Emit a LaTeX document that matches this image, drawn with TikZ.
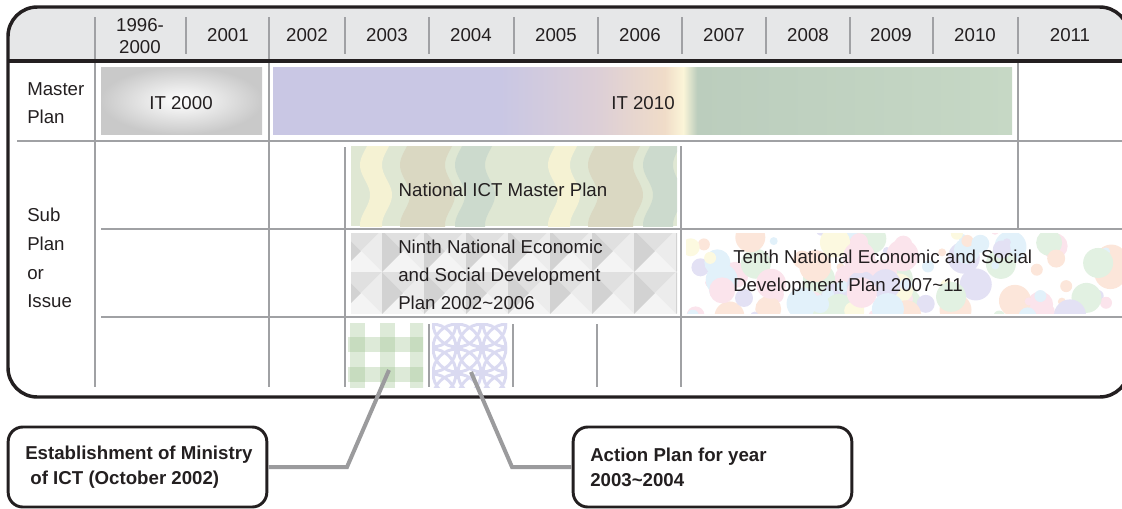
\documentclass[tikz,border=0pt]{standalone}
\usepackage{fontspec}
\setmainfont{Liberation Sans}
\definecolor{framec}{HTML}{231F20}
\definecolor{gridc}{HTML}{A0A1A4}
\definecolor{headbg}{HTML}{E6E7E8}
\definecolor{itpurple}{HTML}{C9C7E4}
\definecolor{itpink}{HTML}{DDCFD6}
\definecolor{itpeach}{HTML}{F0DCC8}
\definecolor{itcream}{HTML}{FBF5D8}
\definecolor{itgreenA}{HTML}{BBCDBD}
\definecolor{itgreenB}{HTML}{C6D8C5}
\definecolor{wavebg}{HTML}{DFE7D3}
\definecolor{wavecream}{HTML}{F5F2D3}
\definecolor{wavekhaki}{HTML}{DAD8C2}
\definecolor{waveteal}{HTML}{CCDACD}
\definecolor{triT}{HTML}{E0E0E0}
\definecolor{triL}{HTML}{D2D2D2}
\definecolor{triR}{HTML}{ECECEC}
\definecolor{triB}{HTML}{F4F4F4}
\definecolor{pA}{HTML}{E3E1F4}
\definecolor{pB}{HTML}{FBE4EC}
\definecolor{pC}{HTML}{E2F1FA}
\definecolor{pD}{HTML}{E2F1E2}
\definecolor{pE}{HTML}{FCF9E0}
\definecolor{pF}{HTML}{FCE6DA}
\definecolor{ging}{HTML}{9DC290}
\definecolor{lace}{HTML}{DADAF1}
\definecolor{connc}{HTML}{9B9B9D}
\pgfdeclarehorizontalshading{itshade}{100bp}{color(0bp)=(itpurple); color(25bp)=(itpurple); color(40.35bp)=(itpurple); color(47.15bp)=(itpink); color(51.5bp)=(itpeach); color(52.75bp)=(itcream); color(53.7bp)=(itgreenA); color(75bp)=(itgreenB); color(100bp)=(itgreenB)}
\begin{document}
\begin{tikzpicture}[x=0.75pt,y=-0.75pt,
  lbl/.style={inner sep=0pt, text=framec, font=\fontsize{14}{17}\selectfont},
  rowlbl/.style={lbl, align=left, anchor=west, font=\fontsize{14}{21.5}\selectfont},
  bartxt/.style={lbl, align=left, anchor=west, font=\fontsize{14}{21}\selectfont},
  gridline/.style={draw=gridc, line width=2pt},
  callout/.style={draw=framec, line width=2.2pt, rounded corners=11pt, minimum width=194pt, minimum height=60pt, inner sep=0pt},
  calltxt/.style={lbl, align=left, anchor=west, font=\fontsize{14}{18.75}\selectfont\bfseries},
  conn/.style={draw=connc, line width=3pt}]
\useasboundingbox (0,0) rectangle (1122,508);
\pgfmathsetseed{12}
\pgfmathdeclarerandomlist{pastels}{{pA}{pB}{pC}{pD}{pE}{pF}}
\pgfmathdeclarerandomlist{radii}{{4}{6}{9}{13}{15}{16}}

% header background
\begin{scope}
  \clip (0,0) rectangle (1135,61);
  \fill[headbg, rounded corners=22pt] (8,7) rectangle (1129,397);
\end{scope}

% IT 2000 bar
\shade[inner color=white, outer color=black!21] (101,67) rectangle (262,134);
% IT 2010 bar
\shade[shading=itshade] (273,67) rectangle (1012,134);

% National ICT Master Plan (wavy bands)
\begin{scope}
  \clip (351,146) rectangle (677,226);
  \fill[wavebg] (351,146) rectangle (677,226);
  \foreach \xo in {177,365,553}{
    \fill[wavecream] plot[variable=\t, domain=140:232, samples=40] ({\xo+5*sin(\t*6)},\t)
       -- plot[variable=\t, domain=232:140, samples=40] ({\xo+22+5*sin(\t*6)},\t) -- cycle;
    \fill[wavekhaki] plot[variable=\t, domain=140:232, samples=40] ({\xo+40+5*sin(\t*6)},\t)
       -- plot[variable=\t, domain=232:140, samples=40] ({\xo+85+5*sin(\t*6)},\t) -- cycle;
    \fill[waveteal] plot[variable=\t, domain=140:232, samples=40] ({\xo+95+5*sin(\t*6)},\t)
       -- plot[variable=\t, domain=232:140, samples=40] ({\xo+125+5*sin(\t*6)},\t) -- cycle;
  }
\end{scope}

% Ninth plan (pyramid tiles)
\begin{scope}
  \clip (351,233) rectangle (677,313);
  \foreach \tx in {340,382,...,690}{
    \foreach \ty in {230,272,314}{
      \fill[triT] (\tx,\ty) -- (\tx+42,\ty) -- (\tx+21,\ty+21) -- cycle;
      \fill[triR] (\tx+42,\ty) -- (\tx+42,\ty+42) -- (\tx+21,\ty+21) -- cycle;
      \fill[triB] (\tx,\ty+42) -- (\tx+42,\ty+42) -- (\tx+21,\ty+21) -- cycle;
      \fill[triL] (\tx,\ty) -- (\tx,\ty+42) -- (\tx+21,\ty+21) -- cycle;
    }
  }
\end{scope}

% Tenth plan (pastel dots)
\begin{scope}
  \clip (686,233) rectangle (1122,313);
  \foreach \i in {1,...,110}{
    \pgfmathsetmacro{\cx}{686+436*rnd}
    \pgfmathsetmacro{\cy}{228+90*rnd}
    \pgfmathrandomitem{\rr}{radii}
    \pgfmathrandomitem{\cc}{pastels}
    \fill[\cc] (\cx,\cy) circle[radius=\rr];
  }
\end{scope}

% gingham square
\begin{scope}
  \clip (348,323) rectangle (423,387);
  \foreach \gx in {350,380,410}{\fill[ging, opacity=0.35] (\gx,320) rectangle (\gx+15,390);}
  \foreach \gy in {337,367,307}{\fill[ging, opacity=0.35] (345,\gy) rectangle (425,\gy+15);}
\end{scope}

% lace square
\begin{scope}
  \clip (432,323) rectangle (507,387);
  \foreach \lx in {432,457,482,507}{
    \foreach \ly in {323,348,373,398}{
      \draw[lace, line width=2.2pt] (\lx,\ly) circle[radius=24];
    }
  }
\end{scope}

% grid lines
\foreach \gx in {186,345,429,514,598,682,766,850,933,1018}{
  \draw[gridline] (\gx,17) -- (\gx,54);
}
\draw[gridline] (95,17) -- (95,387);
\draw[gridline] (269,17) -- (269,387);
\draw[gridline] (1018,61) -- (1018,229);
\draw[gridline] (345,147) -- (345,387);
\draw[gridline] (681,146) -- (681,387);
\foreach \gx in {429,513,597}{\draw[gridline] (\gx,324) -- (\gx,387);}
\draw[gridline] (17,141) -- (1122,141);
\draw[gridline] (101,229) -- (1122,229);
\draw[gridline] (101,317) -- (1122,317);

% frame
\draw[framec, line width=3pt] (8,61) -- (1128,61);
\draw[framec, line width=2.6pt, rounded corners=22pt] (8,7) rectangle (1129,397);

% header labels
\node[lbl, align=center] (y9600) at (140,36) {1996-\\2000};
\node[lbl] (y01) at (228,35) {2001};
\node[lbl] (y02) at (307,35) {2002};
\node[lbl] (y03) at (387,35) {2003};
\node[lbl] (y04) at (471,35) {2004};
\node[lbl] (y05) at (556,35) {2005};
\node[lbl] (y06) at (640,35) {2006};
\node[lbl] (y07) at (724,35) {2007};
\node[lbl] (y08) at (808,35) {2008};
\node[lbl] (y09) at (891,35) {2009};
\node[lbl] (y10) at (975,35) {2010};
\node[lbl] (y11) at (1070,35) {2011};

% row labels
\node[rowlbl] (master) at (27,103) {Master\\Plan};
\node[rowlbl] (sub) at (27,258) {Sub\\Plan\\or\\Issue};

% bar labels
\node[lbl] (it2000) at (181,103) {IT 2000};
\node[lbl] (it2010) at (643,103) {IT 2010};
\node[lbl] (ict) at (503,190) {National ICT Master Plan};
\node[bartxt] (ninth) at (398,275) {Ninth National Economic\\and Social Development\\Plan 2002\textasciitilde2006};
\node[bartxt] (tenth) at (733,273) {Tenth National Economic and Social\\Development Plan 2007\textasciitilde11};

% callouts
\node[callout] (box1) at (137.5,467) {};
\node[calltxt] (t1) at (25,467) {Establishment of Ministry\\\ of ICT (October 2002)};
\node[callout, minimum width=209pt] (box2) at (712.5,467) {};
\node[calltxt] (t2) at (590,467) {Action Plan for year\\2003\textasciitilde2004};

\coordinate (gend) at (389,370);
\coordinate (lend) at (471,372);
\draw[conn] (box1.east) -- (347,467) -- (gend);
\draw[conn] (box2.west) -- (512,467) -- (lend);
\end{tikzpicture}
\end{document}
